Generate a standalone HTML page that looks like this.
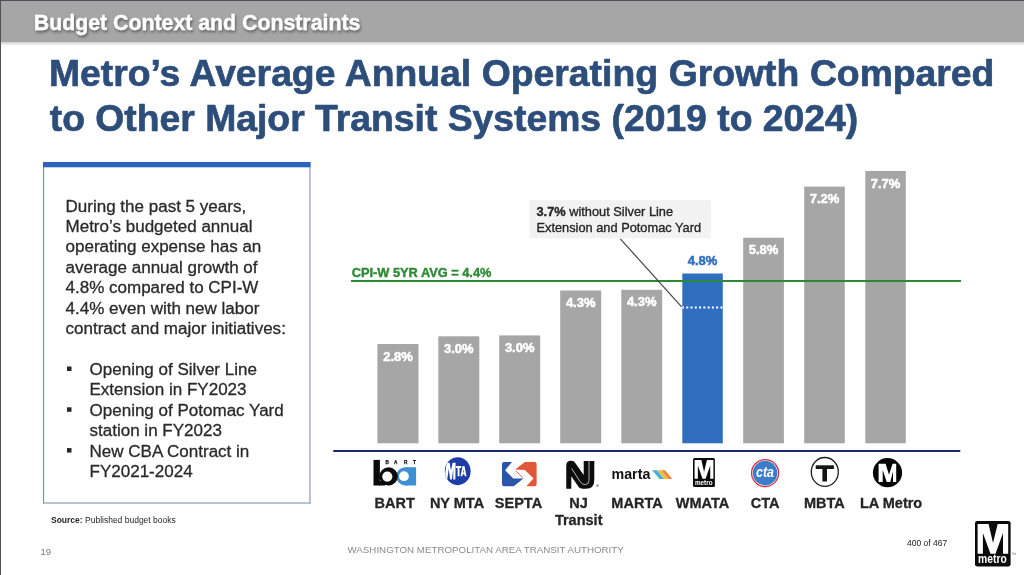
<!DOCTYPE html>
<html><head><meta charset="utf-8">
<style>
html,body{margin:0;padding:0;background:#fff;}
body{width:1024px;height:575px;overflow:hidden;position:relative;font-family:"Liberation Sans",sans-serif;}
svg{position:absolute;left:0;top:0;display:block;will-change:transform;}
text{font-family:"Liberation Sans",sans-serif;}
</style></head><body>
<svg width="1024" height="575" viewBox="0 0 1024 575">
<defs>
  <linearGradient id="hsh" x1="0" y1="0" x2="0" y2="1">
    <stop offset="0" stop-color="#000" stop-opacity="0.18"/>
    <stop offset="1" stop-color="#000" stop-opacity="0"/>
  </linearGradient>
  <filter id="tsh" x="-5%" y="-30%" width="110%" height="160%">
    <feGaussianBlur in="SourceAlpha" stdDeviation="1.5"/>
    <feOffset dx="1" dy="1.5" result="b"/>
    <feComponentTransfer><feFuncA type="linear" slope="0.45"/></feComponentTransfer>
    <feMerge><feMergeNode/><feMergeNode in="SourceGraphic"/></feMerge>
  </filter>
  <clipPath id="mtaclip"><ellipse cx="457.7" cy="471.2" rx="12.8" ry="13.9"/></clipPath>
</defs>
<rect x="0" y="0" width="1024" height="575" fill="#fff"/>
<!-- header -->
<rect x="0" y="0" width="1024" height="42" fill="#a6a6a6"/>
<rect x="0" y="42" width="1024" height="4" fill="url(#hsh)"/>
<rect x="0" y="0" width="1024" height="1" fill="#50525a"/>
<rect x="0" y="0" width="1" height="575" fill="#50525a"/>
<text x="33.8" y="29.5" font-size="21.3" font-weight="bold" fill="#fff" stroke="#fff" stroke-width="0.3" stroke-linejoin="round" filter="url(#tsh)">Budget Context and Constraints</text>

<!-- title -->
<g font-size="37.3" font-weight="bold" fill="#2d4e7b" stroke="#2d4e7b" stroke-width="0.7" stroke-linejoin="round">
<text x="49" y="86" word-spacing="0.35">Metro’s Average Annual Operating Growth Compared</text>
<text x="49.8" y="130.6">to Other Major Transit Systems (2019 to 2024)</text>
</g>

<!-- left box -->
<rect x="43" y="162" width="1.1" height="341.6" fill="#7a8cb0"/>
<rect x="43" y="502.3" width="267.8" height="1.4" fill="#9ca8be"/>
<rect x="309.2" y="162" width="1.5" height="341.6" fill="#a4aec2"/>
<rect x="43" y="162" width="267.5" height="5.3" fill="#2a64c0"/>
<g font-size="17.03" fill="#2a2a2a" stroke="#2a2a2a" stroke-width="0.3" stroke-linejoin="round" transform="translate(0.5 0.3)">
<text x="65" y="211.3">During the past 5 years,</text>
<text x="65" y="231.7">Metro’s budgeted annual</text>
<text x="65" y="252.1">operating expense has an</text>
<text x="65" y="272.5">average annual growth of</text>
<text x="65" y="292.9">4.8% compared to CPI-W</text>
<text x="65" y="313.3">4.4% even with new labor</text>
<text x="65" y="333.7">contract and major initiatives:</text>
<text x="89" y="374.7">Opening of Silver Line</text>
<text x="89" y="395.1">Extension in FY2023</text>
<text x="89" y="415.5">Opening of Potomac Yard</text>
<text x="89" y="435.9">station in FY2023</text>
<text x="89" y="456.3">New CBA Contract in</text>
<text x="89" y="476.7">FY2021-2024</text>
</g>
<g fill="#262626">
<rect x="67" y="366.5" width="4.5" height="4.5"/>
<rect x="67" y="407.3" width="4.5" height="4.5"/>
<rect x="67" y="448.1" width="4.5" height="4.5"/>
</g>
<text x="51" y="523.2" font-size="8.5" fill="#262626"><tspan font-weight="bold">Source:</tspan> Published budget books</text>

<!-- chart bars -->
<g fill="#a6a6a6">
<rect x="377.4" y="344" width="41.1" height="99.3"/>
<rect x="438.3" y="336.3" width="41" height="107"/>
<rect x="499.2" y="335.4" width="41" height="107.9"/>
<rect x="560.2" y="290.5" width="41" height="152.8"/>
<rect x="621.3" y="289.8" width="40.9" height="153.5"/>
<rect x="743.2" y="237.7" width="40.7" height="205.6"/>
<rect x="804.2" y="186.6" width="40.6" height="256.7"/>
<rect x="865.3" y="171" width="40.5" height="272.3"/>
</g>
<rect x="682.3" y="273.5" width="40.5" height="169.8" fill="#306ec0"/>
<line x1="682.3" y1="307.6" x2="722.8" y2="307.6" stroke="#fff" stroke-width="2" stroke-dasharray="2 2.27" stroke-dashoffset="0.3"/>
<!-- bar labels -->
<g font-size="13" font-weight="bold" fill="#fff" stroke="#fff" stroke-width="0.5" stroke-linejoin="round" text-anchor="middle">
<text x="398" y="360.8">2.8%</text>
<text x="458.8" y="353.0">3.0%</text>
<text x="519.7" y="352.1">3.0%</text>
<text x="580.7" y="307.0">4.3%</text>
<text x="641.7" y="306.1">4.3%</text>
<text x="763.5" y="254.0">5.8%</text>
<text x="824.5" y="203.2">7.2%</text>
<text x="885.5" y="187.7">7.7%</text>
</g>
<text x="702.6" y="265.2" font-size="13" font-weight="bold" fill="#306ec0" stroke="#306ec0" stroke-width="0.5" stroke-linejoin="round" text-anchor="middle">4.8%</text>
<!-- CPI line -->
<rect x="351" y="280" width="610" height="2" fill="#2d8a34"/>
<text x="351.7" y="277" font-size="12.8" font-weight="bold" fill="#2d8a34" stroke="#2d8a34" stroke-width="0.4" stroke-linejoin="round">CPI-W 5YR AVG = 4.4%</text>
<!-- axis -->
<rect x="333.3" y="450" width="627" height="2" fill="#1b2a6b"/>
<!-- callout -->
<rect x="529.4" y="200.2" width="181.6" height="38.2" fill="#f2f2f2"/>
<line x1="620.3" y1="238.8" x2="681.6" y2="306.8" stroke="#4a4a4a" stroke-width="1.25"/>
<g font-size="12.8" fill="#262626" stroke="#262626" stroke-width="0.35" stroke-linejoin="round">
<text x="536.5" y="216.4"><tspan font-weight="bold">3.7%</tspan> without Silver Line</text>
<text x="536.5" y="231.6">Extension and Potomac Yard</text>
</g>

<!-- category labels -->
<g font-size="14.5" font-weight="bold" fill="#262626" stroke="#262626" stroke-width="0.3" stroke-linejoin="round" text-anchor="middle">
<text x="394.7" y="507.5">BART</text>
<text x="457" y="507.5">NY MTA</text>
<text x="518.5" y="507.5">SEPTA</text>
<text x="578.6" y="507.5">NJ</text>
<text x="578.7" y="525.1">Transit</text>
<text x="637" y="507.5">MARTA</text>
<text x="702.5" y="507.5">WMATA</text>
<text x="765.1" y="507.5">CTA</text>
<text x="824.3" y="507.5">MBTA</text>
<text x="891.1" y="507.5">LA Metro</text>
</g>

<!-- logos -->
<!-- BART -->
<g>
<circle cx="405.4" cy="476.3" r="9.15" fill="#3f8fd4"/>
<rect x="405.4" y="467.2" width="10.7" height="18.3" fill="#3f8fd4"/>
<circle cx="403.9" cy="476.2" r="4.9" fill="#fff"/>
<rect x="373.5" y="459.9" width="6.4" height="25.6" fill="#0a0a0a"/>
<ellipse cx="388.6" cy="476.35" rx="9.2" ry="9.15" fill="#0a0a0a"/>
<rect x="379" y="481" width="6" height="4.5" fill="#0a0a0a"/>
<ellipse cx="387.3" cy="476.6" rx="5.1" ry="5.1" fill="#fff"/>
<g font-size="4.7" font-weight="bold" fill="#111" stroke="#111" stroke-width="0.25">
<text x="385.6" y="463.6">B</text><text x="394.1" y="463.6">A</text><text x="404.1" y="463.6">R</text><text x="413" y="463.6">T</text>
</g>
</g>
<!-- MTA -->
<g>
<ellipse cx="457.7" cy="471.2" rx="12.9" ry="14" fill="#1d3ca8"/>
<g clip-path="url(#mtaclip)" fill="#fff">
<path d="M444.4 479.4 L446.6 462.7 L449.6 462.7 L451 470.5 L452.6 462.7 L455.6 462.7 L455.4 479.4 L453.2 479.4 L453.3 468.8 L451.8 479.4 L450.1 479.4 L448.7 468.8 L447.3 479.4 Z"/>
<path d="M455.9 465.9 H461.3 V467.9 H459.5 V476.2 H457.6 V467.9 H455.9 Z"/>
<path d="M460.5 476.2 L462.6 465.9 L464.5 465.9 L466.5 476.2 L464.7 476.2 L464.3 474.2 L462.7 474.2 L462.3 476.2 Z M463 472.6 H464 L463.5 469.2 Z" fill-rule="evenodd"/>
</g>
</g>
<!-- SEPTA -->
<g>
<clipPath id="septaclip"><rect x="502" y="461.7" width="34.8" height="24.9" rx="3"/></clipPath>
<g clip-path="url(#septaclip)">
<polygon points="502,461.7 512.2,461.7 505.1,470.3 513.4,478.6 523.4,478.6 513.4,486.6 502,486.6" fill="#2b55a8"/>
<polygon points="515.2,469.6 525.2,461.7 536.8,461.7 536.8,486.6 526.1,486.6 533.5,478.6 524.9,470" fill="#e2563a"/>
<line x1="515.9" y1="471" x2="522.9" y2="477.6" stroke="#e2563a" stroke-width="0.9"/>
</g>
</g>
<!-- NJ Transit -->
<g>
<path d="M566.25 488.7 L566.25 465.7 Q566.3 461 570.1 460.7 Q572.6 460.5 574.2 461.5 L583.7 475.1 L583.7 461 L594.3 461 L594.3 479.9 Q594.3 488.7 586 488.7 L583.1 488.7 Q579.3 488.7 577.6 485.4 L571.3 476.3 L571.3 488.7 Z" fill="#0d0d0d"/>
<path d="M571.5 468.3 L580.1 481.6 Q582.5 485 585.6 484.6 Q589 484 589 480.5 L589 461" fill="none" stroke="#c8c8c8" stroke-width="0.9"/>
<circle cx="597.5" cy="485.6" r="1.3" fill="#999"/>
</g>
<!-- MARTA -->
<g>
<text x="611.5" y="478.9" font-size="15.5" font-weight="bold" fill="#111" textLength="38.8" lengthAdjust="spacingAndGlyphs">marta</text>
<polygon points="652.2,470.3 656.9,470.3 664.2,478.9 659.5,478.9" fill="#41b0e2"/>
<polygon points="656.9,470.3 661.1,470.3 668.4,478.9 664.2,478.9" fill="#f2bb3c"/>
<polygon points="661.1,470.3 665.2,470.3 672.4,478.9 668.4,478.9" fill="#ea8a3e"/>
</g>
<!-- WMATA small logo -->
<g transform="translate(693 457.9) scale(0.615 0.635)">
<rect x="0" y="0" width="35.6" height="45.7" rx="2.4" fill="#0a0a0a"/>
<polygon points="2.6,3.2 13.6,3.2 18,22.1 22.7,3.2 33.2,3.2 33.2,32.8 28,32.8 28,12.1 20.5,32.8 15.5,32.8 7.9,12.1 7.9,32.8 2.6,32.8" fill="#fff"/>
<text x="3.1" y="41.9" font-size="12" font-weight="bold" fill="#fff" textLength="28.7" lengthAdjust="spacingAndGlyphs">metro</text>
</g>
<!-- CTA -->
<g>
<circle cx="765.1" cy="473.1" r="13.5" fill="#fff" stroke="#d7303f" stroke-width="1.3"/>
<circle cx="765.1" cy="473.1" r="12.3" fill="#3b7dc9"/>
<text x="756" y="476.7" font-size="15" font-weight="bold" font-style="italic" fill="#fff" textLength="18" lengthAdjust="spacingAndGlyphs">cta</text>
</g>
<!-- MBTA -->
<g>
<ellipse cx="824.8" cy="471.9" rx="13.5" ry="14.4" fill="#fff" stroke="#1e1e1e" stroke-width="1.3"/>
<rect x="815.7" y="465.3" width="18.2" height="3.7" fill="#151515"/>
<rect x="822.4" y="468.5" width="4.6" height="13" fill="#151515"/>
</g>
<!-- LA Metro -->
<g>
<circle cx="887.5" cy="472.7" r="14.6" fill="#050505"/>
<polygon points="878.6,463.7 885.6,463.7 889,474.8 892.6,463.7 896.2,463.7 896.2,481.9 893,481.9 893,471.5 890.3,481.9 886.7,481.9 882.7,470 882.7,481.9 878.6,481.9" fill="#fff"/>
</g>

<!-- footer -->
<text x="40.5" y="554.5" font-size="9.6" fill="#7c7c7c">19</text>
<text x="347.5" y="553.2" font-size="9.75" fill="#8a8a8a">WASHINGTON METROPOLITAN AREA TRANSIT AUTHORITY</text>
<text x="907" y="545.9" font-size="8.5" fill="#1a1a1a">400 of 467</text>
<g transform="translate(975 520.9)">
<rect x="0" y="0" width="35.6" height="45.7" rx="2.4" fill="#0a0a0a"/>
<polygon points="2.6,3.2 13.6,3.2 18,22.1 22.7,3.2 33.2,3.2 33.2,32.8 28,32.8 28,12.1 20.5,32.8 15.5,32.8 7.9,12.1 7.9,32.8 2.6,32.8" fill="#fff"/>
<text x="3.1" y="41.9" font-size="12" font-weight="bold" fill="#fff" textLength="28.7" lengthAdjust="spacingAndGlyphs">metro</text>
<text x="36.2" y="35.5" font-size="5" fill="#666">™</text>
</g>
</svg>
</body></html>
